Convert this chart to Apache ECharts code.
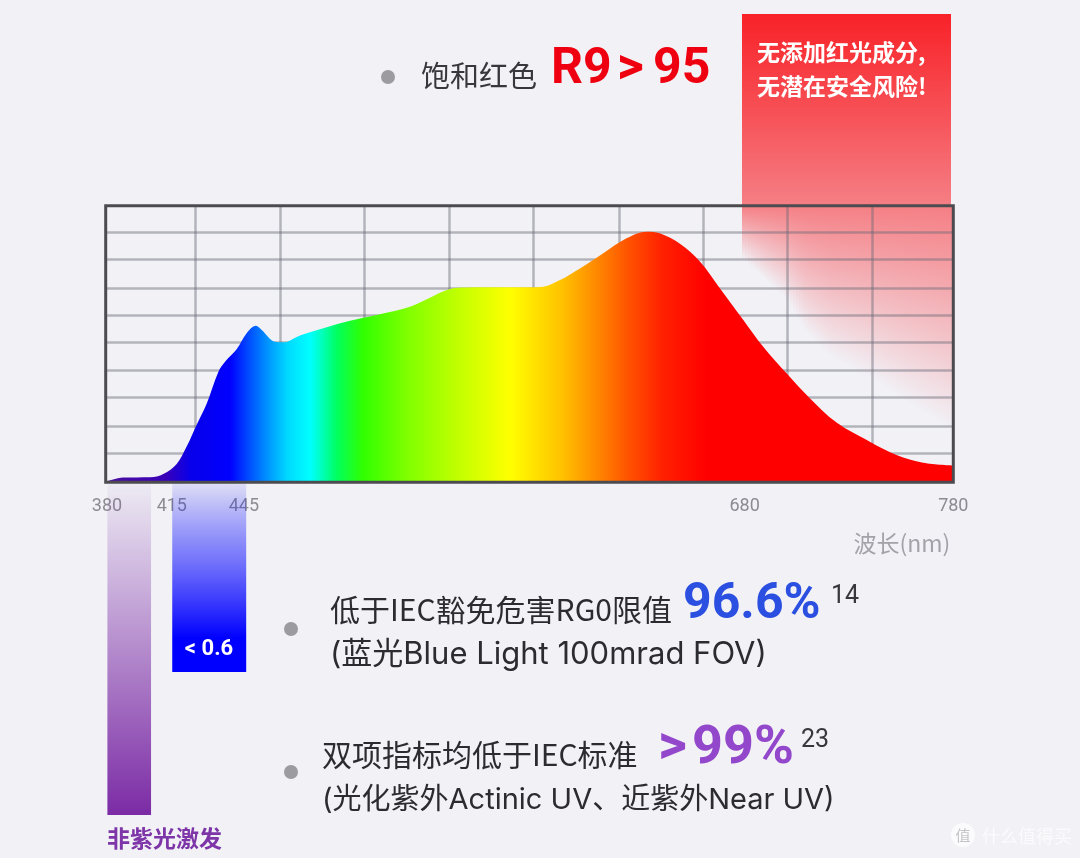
<!DOCTYPE html>
<html>
<head>
<meta charset="utf-8">
<style>
  html, body { margin: 0; padding: 0; background: #f1f1f6; }
  #chart { width: 1080px; height: 858px; }
</style>
<script src="https://cdn.jsdelivr.net/npm/echarts@6/dist/echarts.min.js"></script>
</head>
<body>
<div id="chart"></div>
<script>
// Relative spectral power of the light source: wavelength (nm) and intensity (%)
const wavelengths = [380, 388.3, 400.9, 407.2, 413.5, 418.2, 422.9, 427.7, 433.2, 436.3, 441.8, 446.5, 450.9, 453.6, 459.9, 463.8, 471.7, 482.7, 495.3, 507.9, 523.6, 531.5, 542.5, 550.4, 565, 580.2, 586.5, 594.4, 603.8, 614.8, 625.8, 635.3, 641.5, 651, 660.4, 669.9, 680.9, 690.3, 701.3, 712.3, 724.9, 740.6, 753.2, 765.8, 780];
const intensity = [0.2, 1.7, 1.8, 3, 6.6, 12.9, 20.7, 28.5, 40, 43.6, 48.1, 53.9, 56.6, 55.1, 50.8, 50.6, 53.1, 55.7, 58.4, 60.5, 63.5, 66.2, 69.9, 70.4, 70.5, 70.5, 70.7, 73.1, 77.3, 82.8, 88.2, 90.6, 90, 86.2, 79.8, 70.1, 58.7, 49, 39.4, 30.4, 21.6, 14.7, 9.9, 7.1, 6.1];

// Colour of the spectrum at each wavelength
const spectrumNm = [380, 408, 420, 438.7, 448, 457.5, 465.6, 476.4, 481, 489, 501.4, 522.2, 545.8, 570.8, 595.8, 611.8, 627.4, 643, 663.8, 780];
const spectrumColors = ['#4a0f9e', '#3a00b8', '#0800ea', '#0000ff', '#0050ff', '#009cff', '#00d8ff', '#00ffff', '#00ffc8', '#00ff60', '#30ff00', '#7fff00', '#c0ff00', '#ffff00', '#ffc000', '#ff8800', '#ff5000', '#ff2000', '#ff0000', '#ff0000'];

// Grid divisions and axis labels
const gridNm = [422.3, 462.2, 502.2, 542, 581.6, 622.2, 662, 701.7, 741.6];
const gridIntensity = [10.5, 20.4, 30.7, 40.6, 50.5, 60.4, 70.2, 80.6, 90.4];
const tickAt = [380.6, 411.2, 445.2, 681.5, 780];
const tickLabels = ['380', '415', '445', '680', '780'];

// Wavelength bands hanging under the axis
const bandNames = ['非紫光激发', '< 0.6'];
const bandStart = [380.8, 411.4];
const bandEnd = [401.4, 446.3];

const CJK = '"Noto Sans CJK SC", sans-serif';
const LATIN = 'Roboto, "Noto Sans CJK SC", sans-serif';
const BODY = 'Inter, "Noto Sans CJK SC", sans-serif';
const GRID_LINE = 'rgba(105,105,118,0.45)';
const PLOT = { left: 105.7, right: 953.3, top: 205.7, bottom: 482.3 };
const bandBottom = [815, 672];
const bandFills = [
  [[0, 'rgba(123,43,165,0.03)'], [1, 'rgba(123,43,165,1)']],
  [[0, 'rgba(0,0,255,0.08)'], [0.4, 'rgba(30,30,255,0.58)'], [0.82, 'rgba(0,0,255,1)'], [1, 'rgba(0,0,255,1)']]
];

// Red "no added red light" panel: solid header fading towards the plot
const RED = '248,34,40';
const panel = { left: 742, right: 951, top: 14, seam: 206 };
const fadeX = [742, 787, 807, 830, 873, 951];
const fadeY = [258, 300, 333, 357, 380, 430];

function fadeBottom(x) {
  for (let i = 1; i < fadeX.length; i++) {
    if (x <= fadeX[i]) {
      const t = (x - fadeX[i - 1]) / (fadeX[i] - fadeX[i - 1]);
      return fadeY[i - 1] + t * (fadeY[i] - fadeY[i - 1]);
    }
  }
  return fadeY[fadeY.length - 1];
}

const vGrad = (stops) => new echarts.graphic.LinearGradient(0, 0, 0, 1,
  stops.map(([offset, color]) => ({ offset, color })));

const panelElements = [{
  type: 'rect', z: -10, silent: true,
  shape: { x: panel.left, y: panel.top, width: panel.right - panel.left, height: panel.seam - panel.top },
  style: { fill: vGrad([[0, `rgba(${RED},1)`], [0.5, `rgba(${RED},0.78)`], [1, `rgba(${RED},0.55)`]]) }
}];
for (let x = panel.left; x < panel.right; x += 3) {
  panelElements.push({
    type: 'rect', z: -10, silent: true,
    shape: { x, y: panel.seam, width: 3, height: fadeBottom(x + 1.5) - panel.seam },
    style: { fill: vGrad([[0, `rgba(${RED},0.55)`], [1, `rgba(${RED},0)`]]) }
  });
}

function label(text, x, y, font, fill, align) {
  return {
    type: 'text', z: 20, silent: true,
    style: { text, x, y, font, fill, textAlign: align || 'left', textVerticalAlign: 'middle' }
  };
}
function dot(cx, cy) {
  return { type: 'circle', z: 20, silent: true, shape: { cx, cy, r: 7 }, style: { fill: '#9b9ba0' } };
}

const annotations = [
  dot(388, 77),
  label('饱和红色', 421, 76, `29px ${CJK}`, '#38383c'),
  label('R9', 551, 70, `bold 50px ${LATIN}`, '#ef0010'),
  label('>', 617, 70, `bold 52px ${LATIN}`, '#ef0010'),
  label('95', 653, 70, `bold 50px ${LATIN}`, '#ef0010'),
  label('无添加红光成分,', 757, 52, `bold 23px ${CJK}`, '#ffffff'),
  label('无潜在安全风险!', 757, 86, `bold 23px ${CJK}`, '#ffffff'),

  dot(291, 629),
  label('低于IEC豁免危害RG0限值', 330, 610, `30px ${CJK}`, '#2c2c30'),
  label('96.6%', 683, 605, `bold 50px ${LATIN}`, '#2b4fe0'),
  label('14', 831, 597, `25px ${LATIN}`, '#38383c'),
  label('(蓝光Blue Light 100mrad FOV)', 330, 655, `31px ${BODY}`, '#2c2c30'),

  dot(291, 772),
  label('双项指标均低于IEC标准', 322, 755, `30px ${CJK}`, '#2c2c30'),
  label('>', 658, 749, `bold 56px ${LATIN}`, '#9348cc'),
  label('99%', 692, 749, `bold 54px ${LATIN}`, '#9348cc'),
  label('23', 801, 741, `25px ${LATIN}`, '#38383c'),
  label('(光化紫外Actinic UV、近紫外Near UV)', 322, 800, `29px ${BODY}`, '#2c2c30'),

  label(bandNames[0], 107, 838, `bold 23px ${CJK}`, '#7d35a8'),
  label(bandNames[1], 209, 649, `bold 22px ${LATIN}`, '#ffffff', 'center'),

  // Site mark in the lower corner
  { type: 'circle', z: 20, silent: true, shape: { cx: 963, cy: 835, r: 12 }, style: { fill: '#fbfbfd' } },
  label('值', 963, 835, `15px ${CJK}`, '#c4c4c8', 'center'),
  label('什么值得买', 982, 836, `18px ${CJK}`, '#fbfbfd')
];

const chart = echarts.init(document.getElementById('chart'), null, { renderer: 'canvas' });

chart.setOption({
  animation: false,
  backgroundColor: '#f1f1f6',
  graphic: { elements: panelElements.concat(annotations) },
  grid: {
    z: 5,
    show: true,
    left: PLOT.left,
    top: PLOT.top,
    width: PLOT.right - PLOT.left,
    height: PLOT.bottom - PLOT.top,
    containLabel: false,
    backgroundColor: 'transparent',
    borderWidth: 3,
    borderColor: '#4b4b50'
  },
  xAxis: {
    type: 'value',
    min: 380,
    max: 780,
    name: '波长(nm)',
    nameLocation: 'end',
    nameGap: -3,
    nameMoveOverlap: false,
    nameTextStyle: {
      fontFamily: CJK, fontSize: 23, color: '#a2a2a8',
      align: 'right', verticalAlign: 'top', padding: [49, 0, 0, 0]
    },
    axisLine: { show: false },
    axisTick: { show: false, customValues: gridNm },
    splitLine: { show: true, lineStyle: { color: GRID_LINE, width: 2.5 } },
    axisLabel: {
      customValues: tickAt,
      formatter: (v) => tickLabels[tickAt.indexOf(v)],
      margin: 15,
      color: '#8b8b91',
      fontFamily: 'Roboto, sans-serif',
      fontSize: 18,
      hideOverlap: false,
      showMaxLabel: true,
      showMinLabel: true
    }
  },
  yAxis: {
    type: 'value',
    min: 0,
    max: 100,
    axisLine: { show: false },
    axisTick: { show: false, customValues: gridIntensity },
    axisLabel: { show: false },
    splitLine: { show: true, lineStyle: { color: GRID_LINE, width: 2.5 } }
  },
  series: [
    {
      name: '光谱',
      type: 'line',
      z: 3,
      data: wavelengths.map((nm, i) => [nm, intensity[i]]),
      smooth: 0.35,
      showSymbol: false,
      lineStyle: { width: 0 },
      areaStyle: {
        opacity: 1,
        color: new echarts.graphic.LinearGradient(0, 0, 1, 0, spectrumNm.map((nm, i) => ({
          offset: (nm - 380) / 400,
          color: spectrumColors[i]
        })))
      }
    },
    {
      name: '波段',
      type: 'custom',
      z: 1,
      silent: true,
      clip: false,
      encode: { x: [0, 1] },
      data: bandStart.map((lo, i) => [lo, bandEnd[i]]),
      renderItem(params, api) {
        const x0 = api.coord([api.value(0), 0]);
        const x1 = api.coord([api.value(1), 0]);
        const top = PLOT.bottom + 1;
        return {
          type: 'rect',
          shape: { x: x0[0], y: top, width: x1[0] - x0[0], height: bandBottom[params.dataIndex] - top },
          style: { fill: vGrad(bandFills[params.dataIndex]) }
        };
      }
    }
  ]
});
</script>
</body>
</html>
